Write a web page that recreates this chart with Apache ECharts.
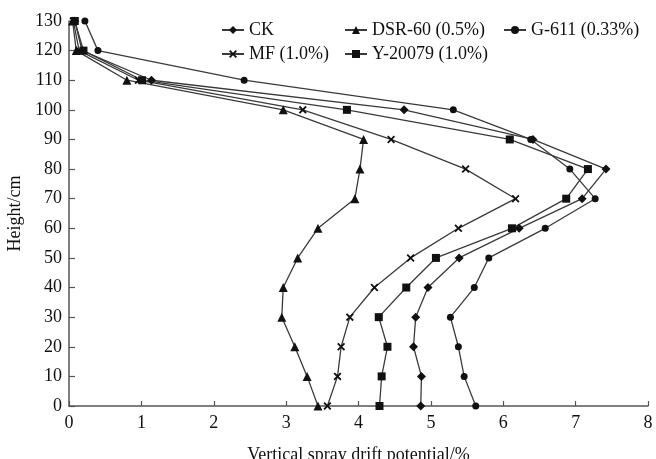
<!DOCTYPE html>
<html>
<head>
<meta charset="utf-8">
<script src="https://cdn.jsdelivr.net/npm/echarts@6/dist/echarts.min.js"></script>
<style>
  html, body { margin: 0; padding: 0; background: #fff; }
  #chart { width: 656px; height: 459px; }
</style>
</head>
<body>
<div id="chart"></div>
<script>
// Sampling heights (cm)
const heights = [0, 10, 20, 30, 40, 50, 60, 70, 80, 90, 100, 110, 120, 130];

// Vertical spray drift potential (%) at each height
const ck     = [4.86, 4.87, 4.76, 4.79, 4.96, 5.39, 6.22, 7.09, 7.42, 6.41, 4.63, 1.14, 0.18, 0.08];
const dsr60  = [3.44, 3.29, 3.12, 2.94, 2.96, 3.16, 3.44, 3.95, 4.02, 4.07, 2.96, 0.80, 0.10, 0.05];
const g611   = [5.62, 5.46, 5.38, 5.27, 5.60, 5.80, 6.58, 7.27, 6.92, 6.38, 5.31, 2.42, 0.40, 0.22];
const mf     = [3.57, 3.71, 3.76, 3.88, 4.22, 4.72, 5.38, 6.17, 5.48, 4.45, 3.23, 0.96, 0.14, 0.06];
const y20079 = [4.29, 4.32, 4.40, 4.28, 4.66, 5.07, 6.12, 6.87, 7.17, 6.09, 3.84, 1.01, 0.20, 0.08];

const seriesNames = ['CK', 'DSR-60 (0.5%)', 'G-611 (0.33%)', 'MF (1.0%)', 'Y-20079 (1.0%)'];
const xTicks = [0, 1, 2, 3, 4, 5, 6, 7, 8];
const yTicks = [0, 10, 20, 30, 40, 50, 60, 70, 80, 90, 100, 110, 120, 130];

const FONT = "'Liberation Serif', 'Times New Roman', serif";
const INK = '#111';
const LINE = '#3a3a3a';

const crossPath = 'path://M0,1.6L1.6,0L5,3.4L8.4,0L10,1.6L6.6,5L10,8.4L8.4,10L5,6.6L1.6,10L0,8.4L3.4,5Z';

function mkSeries(name, values, symbol, size) {
  return {
    name: name,
    type: 'line',
    data: values.map((v, i) => [v, heights[i]]),
    symbol: symbol,
    symbolSize: size,
    symbolKeepAspect: true,
    showAllSymbol: true,
    itemStyle: { color: INK },
    lineStyle: { color: LINE, width: 1.3 },
    emphasis: { disabled: true },
    animation: false
  };
}

function mkLegend(name, left, centerY) {
  return {
    data: [name],
    left: left,
    top: centerY - 9,
    itemWidth: 22,
    itemHeight: 10,
    itemGap: 0,
    padding: 0,
    selectedMode: false,
    textStyle: { fontFamily: FONT, fontSize: 18, color: INK, lineHeight: 18 }
  };
}

const chart = echarts.init(document.getElementById('chart'), null, { renderer: 'canvas' });

chart.setOption({
  backgroundColor: '#fff',
  animation: false,
  grid: { left: 69, right: 8, top: 21, bottom: 53, outerBoundsMode: 'none', containLabel: false },
  legend: [
    mkLegend(seriesNames[0], 221, 30),
    mkLegend(seriesNames[1], 344, 30),
    mkLegend(seriesNames[2], 503, 30),
    mkLegend(seriesNames[3], 221, 54),
    mkLegend(seriesNames[4], 344, 54)
  ],
  xAxis: {
    type: 'value',
    min: xTicks[0],
    max: xTicks[xTicks.length - 1],
    interval: 1,
    name: 'Vertical spray drift potential/%',
    nameLocation: 'middle',
    nameGap: 40,
    nameTextStyle: { fontFamily: FONT, fontSize: 18, color: INK },
    axisLine: { show: true, lineStyle: { color: '#555', width: 1.5 } },
    axisTick: { show: true, inside: true, length: 5, lineStyle: { color: '#555', width: 1.2 } },
    axisLabel: { fontFamily: FONT, fontSize: 18, color: INK, margin: 8 },
    splitLine: { show: false }
  },
  yAxis: {
    type: 'value',
    min: yTicks[0],
    max: yTicks[yTicks.length - 1],
    interval: 10,
    name: 'Height/cm',
    nameLocation: 'middle',
    nameGap: 42,
    nameRotate: 90,
    nameTextStyle: { fontFamily: FONT, fontSize: 18, color: INK },
    axisLine: { show: true, lineStyle: { color: '#555', width: 1.5 } },
    axisTick: { show: true, inside: true, length: 6, lineStyle: { color: '#555', width: 1.2 } },
    axisLabel: { fontFamily: FONT, fontSize: 18, color: INK, margin: 7 },
    splitLine: { show: false }
  },
  series: [
    mkSeries(seriesNames[0], ck, 'diamond', 9),
    mkSeries(seriesNames[1], dsr60, 'triangle', 9),
    mkSeries(seriesNames[2], g611, 'circle', 7),
    mkSeries(seriesNames[3], mf, crossPath, 8),
    mkSeries(seriesNames[4], y20079, 'rect', 8)
  ]
});
</script>
</body>
</html>
